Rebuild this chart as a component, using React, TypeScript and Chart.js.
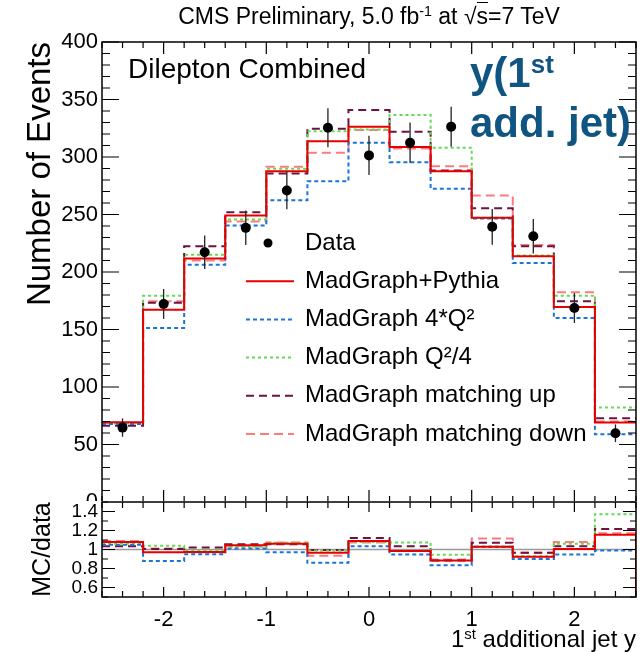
import React, { useEffect, useRef } from "react";
import { Chart, registerables } from "chart.js";

Chart.register(...registerables);

const FONT = "'Liberation Sans', Arial, Helvetica, sans-serif";

// ---- data ----
const binEdges = [-2.6, -2.2, -1.8, -1.4, -1.0, -0.6, -0.2, 0.2, 0.6, 1.0, 1.4, 1.8, 2.2, 2.6];
const dataEvents = [64.7, 172.2, 217.2, 238.4, 270.9, 325.5, 301.4, 312.4, 326.4, 239.3, 231.1, 168.7, 59.8];
const dataErrors = [8.0, 13.0, 14.5, 15.0, 16.4, 17.0, 17.0, 17.7, 17.4, 15.5, 15.0, 13.0, 7.7];
const mgPythia = [69.4, 167.2, 211.7, 249.1, 287.7, 313.8, 326.4, 308.6, 287.7, 247.1, 213.7, 169.6, 69.1];
const mg4Q2 = [67.9, 151.3, 206.4, 240.4, 262.4, 279.0, 312.4, 295.5, 272.4, 246.5, 207.9, 160.0, 59.0];
const mgQ2over4 = [68.2, 179.4, 215.1, 245.6, 289.8, 322.5, 324.0, 336.5, 308.0, 247.1, 214.3, 179.4, 82.1];
const mgMatchUp = [66.2, 173.3, 222.4, 252.0, 285.7, 324.6, 340.8, 322.0, 288.3, 255.5, 222.4, 174.5, 72.9];
const mgMatchDown = [68.8, 174.5, 209.9, 243.9, 291.5, 303.7, 323.4, 307.5, 292.0, 266.5, 223.5, 182.3, 70.0];

const ratioPythia = [1.08, 0.97, 0.975, 1.045, 1.06, 0.965, 1.09, 0.985, 0.885, 1.03, 0.925, 1.005, 1.155];
const ratio4Q2 = [1.05, 0.88, 0.95, 1.01, 0.97, 0.86, 1.035, 0.947, 0.835, 1.03, 0.9, 0.947, 0.99];
const ratioQ2over4 = [1.06, 1.04, 0.99, 1.03, 1.07, 0.99, 1.08, 1.075, 0.945, 1.03, 0.93, 1.06, 1.37];
const ratioMatchUp = [1.035, 1.005, 1.02, 1.055, 1.055, 0.995, 1.12, 1.035, 0.885, 1.07, 0.965, 1.035, 1.215];
const ratioMatchDown = [1.09, 1.01, 0.97, 1.04, 1.075, 0.935, 1.075, 0.985, 0.895, 1.115, 0.965, 1.08, 1.17];
const ratioPythiaClosing = 0;
const ratioUnity = 1;

const mainYTicks = [0, 50, 100, 150, 200, 250, 300, 350, 400];
const ratioYTicks = [0.6, 0.8, 1, 1.2, 1.4];
const xTicks = [-2, -1, 0, 1, 2];

const dataLabel = "Data";
const series = [
  { label: "MadGraph+Pythia", main: mgPythia, ratio: ratioPythia, color: "#e60000", dash: [] as number[], width: 2 },
  { label: "MadGraph 4*Q²", main: mg4Q2, ratio: ratio4Q2, color: "#1b74d8", dash: [4, 3], width: 2 },
  { label: "MadGraph Q²/4", main: mgQ2over4, ratio: ratioQ2over4, color: "#5fdc52", dash: [3, 3], width: 2 },
  { label: "MadGraph matching up", main: mgMatchUp, ratio: ratioMatchUp, color: "#6d1241", dash: [8, 5], width: 2 },
  { label: "MadGraph matching down", main: mgMatchDown, ratio: ratioMatchDown, color: "#ff7b7b", dash: [9, 5], width: 2 },
];

const histPoints = (vals: number[]) =>
  binEdges.map((e, i) => ({ x: e, y: vals[Math.min(i, vals.length - 1)] }));
const binCenters = binEdges.slice(0, -1).map((e, i) => (e + binEdges[i + 1]) / 2);

// ---- plugins ----
const rootFrame = {
  id: "rootFrame",
  afterDatasetsDraw(chart: any, _args: any, o: any) {
    const { ctx, chartArea: a, scales } = chart;
    const xs = scales.x, ys = scales.y;
    ctx.save();
    ctx.strokeStyle = "#000";
    ctx.lineWidth = 1.2;
    ctx.setLineDash([]);
    const nx = Math.round((xs.max - xs.min) / o.xMinor);
    for (let k = 0; k <= nx; k++) {
      const v = xs.min + k * o.xMinor;
      const major = Math.abs(v / o.xMajor - Math.round(v / o.xMajor)) < 1e-6;
      const len = major ? o.xMajorLen : o.xMinorLen;
      const px = xs.getPixelForValue(v);
      ctx.beginPath();
      ctx.moveTo(px, a.bottom);
      ctx.lineTo(px, a.bottom - len);
      ctx.moveTo(px, a.top);
      ctx.lineTo(px, a.top + len);
      ctx.stroke();
    }
    const ny = Math.round((ys.max - ys.min) / o.yMinor);
    for (let k = 0; k <= ny; k++) {
      const v = ys.min + k * o.yMinor;
      const major = Math.abs(v / o.yMajor - Math.round(v / o.yMajor)) < 1e-6;
      const len = major ? o.yMajorLen : o.yMinorLen;
      const py = ys.getPixelForValue(v);
      ctx.beginPath();
      ctx.moveTo(a.left, py);
      ctx.lineTo(a.left + len, py);
      ctx.moveTo(a.right, py);
      ctx.lineTo(a.right - len, py);
      ctx.stroke();
    }
    ctx.lineWidth = 1.5;
    ctx.strokeRect(a.left, a.top, a.right - a.left, a.bottom - a.top);
    ctx.restore();
  },
};

const errorBars = {
  id: "errorBars",
  beforeDatasetDraw(chart: any, args: any) {
    const ds = chart.data.datasets[args.index];
    if (!ds.errors) return;
    const { ctx } = chart;
    const ys = chart.scales.y;
    ctx.save();
    ctx.strokeStyle = "#222";
    ctx.lineWidth = 1.3;
    args.meta.data.forEach((pt: any, i: number) => {
      const v = ds.data[i].y;
      const e = ds.errors[i];
      ctx.beginPath();
      ctx.moveTo(pt.x, ys.getPixelForValue(v + e));
      ctx.lineTo(pt.x, ys.getPixelForValue(v - e));
      ctx.stroke();
    });
    ctx.restore();
  },
};

const insideLegend = {
  id: "insideLegend",
  afterDraw(chart: any, _args: any, o: any) {
    const { ctx } = chart;
    ctx.save();
    ctx.font = `${o.fontSize}px ${FONT}`;
    ctx.textBaseline = "middle";
    ctx.textAlign = "left";
    chart.data.datasets.forEach((ds: any, i: number) => {
      if (!ds.legendLabel) return;
      const y = o.top + i * o.gap;
      if (ds.showLine === false) {
        ctx.fillStyle = "#000";
        ctx.beginPath();
        ctx.arc(o.markerX, y, o.markerR, 0, Math.PI * 2);
        ctx.fill();
      } else {
        ctx.strokeStyle = ds.borderColor;
        ctx.lineWidth = ds.borderWidth;
        ctx.setLineDash(ds.borderDash || []);
        ctx.beginPath();
        ctx.moveTo(o.x0, y);
        ctx.lineTo(o.x1, y);
        ctx.stroke();
        ctx.setLineDash([]);
      }
      ctx.fillStyle = "#000";
      ctx.fillText(ds.legendLabel, o.textX, y);
    });
    ctx.restore();
  },
};

const whitePad = {
  id: "whitePad",
  beforeDraw(chart: any, _args: any, o: any) {
    const { ctx, width, height } = chart;
    ctx.save();
    ctx.fillStyle = "#fff";
    ctx.fillRect(0, o.top, width, height - o.top);
    ctx.restore();
  },
};

const fixedTicks = (vals: number[]) => (s: any) => {
  s.ticks = vals.map((v) => ({ value: v }));
};
const plainLabel = (v: any) => String(Number(v));

export default function App() {
  const mainRef = useRef<HTMLCanvasElement>(null);
  const ratioRef = useRef<HTMLCanvasElement>(null);

  useEffect(() => {
    const mainDatasets: any[] = [
      {
        legendLabel: dataLabel,
        data: binCenters.map((x, i) => ({ x, y: dataEvents[i] })),
        errors: dataErrors,
        showLine: false,
        pointRadius: 5,
        pointBackgroundColor: "#000",
        pointBorderColor: "#000",
        pointBorderWidth: 0,
        borderColor: "#000",
      },
      ...series.map((s) => ({
        legendLabel: s.label,
        data: histPoints(s.main),
        stepped: true,
        borderColor: s.color,
        borderWidth: s.width,
        borderDash: s.dash,
        pointRadius: 0,
        fill: false,
      })),
    ];

    const main = new Chart(mainRef.current as HTMLCanvasElement, {
      type: "line",
      data: { datasets: mainDatasets },
      plugins: [rootFrame, errorBars, insideLegend],
      options: {
        animation: false,
        responsive: false,
        devicePixelRatio: 1,
        layout: { padding: { left: 0, right: 6, top: 42, bottom: 0 } },
        plugins: {
          legend: { display: false },
          tooltip: { enabled: false },
          rootFrame: { xMinor: 0.2, xMajor: 1, xMajorLen: 12, xMinorLen: 6, yMinor: 10, yMajor: 50, yMajorLen: 17, yMinorLen: 8 },
          insideLegend: { top: 243, gap: 38.2, x0: 246, x1: 294, markerX: 268, textX: 305, fontSize: 24, markerR: 4.5 },
        } as any,
        scales: {
          x: {
            type: "linear",
            min: -2.6,
            max: 2.6,
            afterBuildTicks: fixedTicks(xTicks),
            ticks: { display: false },
            grid: { display: false, drawTicks: false },
            border: { display: false },
            afterFit: (s: any) => { s.height = 150; },
          },
          y: {
            type: "linear",
            min: 0,
            max: 400,
            afterBuildTicks: fixedTicks(mainYTicks),
            ticks: { font: { family: FONT, size: 22 }, color: "#000", padding: 4, autoSkip: false, callback: plainLabel },
            grid: { display: false, drawTicks: false },
            border: { display: false },
            title: {
              display: true,
              text: "Number of Events",
              align: "end",
              color: "#000",
              font: { family: FONT, size: 33 },
              padding: { top: 21, bottom: 0 },
            },
            afterFit: (s: any) => { s.width = 102; },
          },
        },
      } as any,
    });

    const ratioDatasets: any[] = [
      ...series.map((s, idx) => ({
        data: idx === 0 ? [...histPoints(s.ratio), { x: binEdges[binEdges.length - 1], y: ratioPythiaClosing }] : histPoints(s.ratio),
        stepped: true,
        borderColor: s.color,
        borderWidth: s.width,
        borderDash: s.dash,
        pointRadius: 0,
        fill: false,
      })),
      {
        data: [
          { x: binEdges[0], y: ratioUnity },
          { x: binEdges[binEdges.length - 1], y: ratioUnity },
        ],
        borderColor: "#9a9a9a",
        borderWidth: 1.5,
        pointRadius: 0,
        fill: false,
      },
    ];

    const ratio = new Chart(ratioRef.current as HTMLCanvasElement, {
      type: "line",
      data: { datasets: ratioDatasets },
      plugins: [whitePad, rootFrame],
      options: {
        animation: false,
        responsive: false,
        devicePixelRatio: 1,
        layout: { padding: { left: 0, right: 6, top: 502, bottom: 0 } },
        plugins: {
          legend: { display: false },
          tooltip: { enabled: false },
          whitePad: { top: 501 },
          rootFrame: { xMinor: 0.2, xMajor: 1, xMajorLen: 10, xMinorLen: 6, yMinor: 0.1, yMajor: 0.2, yMajorLen: 13, yMinorLen: 6 },
        } as any,
        scales: {
          x: {
            type: "linear",
            min: -2.6,
            max: 2.6,
            afterBuildTicks: fixedTicks(xTicks),
            ticks: { font: { family: FONT, size: 22 }, color: "#000", padding: 10, autoSkip: false, maxRotation: 0, callback: plainLabel },
            grid: { display: false, drawTicks: false },
            border: { display: false },
            afterFit: (s: any) => { s.height = 55; },
          },
          y: {
            type: "linear",
            min: 0.5,
            max: 1.5,
            afterBuildTicks: fixedTicks(ratioYTicks),
            ticks: { font: { family: FONT, size: 19 }, color: "#000", padding: 4, autoSkip: false, callback: plainLabel },
            grid: { display: false, drawTicks: false },
            border: { display: false },
            title: {
              display: true,
              text: "MC/data",
              align: "center",
              color: "#000",
              font: { family: FONT, size: 25 },
              padding: { top: 28, bottom: 0 },
            },
            afterFit: (s: any) => { s.width = 102; },
          },
        },
      } as any,
    });

    return () => {
      main.destroy();
      ratio.destroy();
    };
  }, []);

  const abs = (o: React.CSSProperties): React.CSSProperties => ({ position: "absolute", whiteSpace: "nowrap", lineHeight: 1, ...o });
  const supStyle: React.CSSProperties = { fontSize: "0.62em", position: "relative", top: "-0.55em" };

  return (
    <div style={{ position: "absolute", left: 0, top: 0, width: 642, height: 652, background: "#fff", overflow: "hidden", fontFamily: FONT, color: "#000" }}>
      <canvas ref={mainRef} width={642} height={652} style={{ position: "absolute", left: 0, top: 0 }} />
      <canvas ref={ratioRef} width={642} height={652} style={{ position: "absolute", left: 0, top: 0 }} />
      <div style={abs({ left: 102, width: 534, top: 5, fontSize: 23, textAlign: "center" })}>
        CMS Preliminary, 5.0 fb<span style={supStyle}>-1</span> at √<span style={{ borderTop: "1px solid #000" }}>s</span>=7 TeV
      </div>
      <div style={abs({ left: 128, top: 55, fontSize: 28 })}>Dilepton Combined</div>
      <div style={abs({ left: 470, top: 52, fontSize: 42, fontWeight: "bold", color: "#105582" })}>
        y(1<span style={supStyle}>st</span>
      </div>
      <div style={abs({ left: 470, top: 102, fontSize: 42, fontWeight: "bold", color: "#105582" })}>add. jet)</div>
      <div style={abs({ right: 6, top: 627, fontSize: 24, textAlign: "right" })}>
        1<span style={supStyle}>st</span> additional jet y
      </div>
    </div>
  );
}
